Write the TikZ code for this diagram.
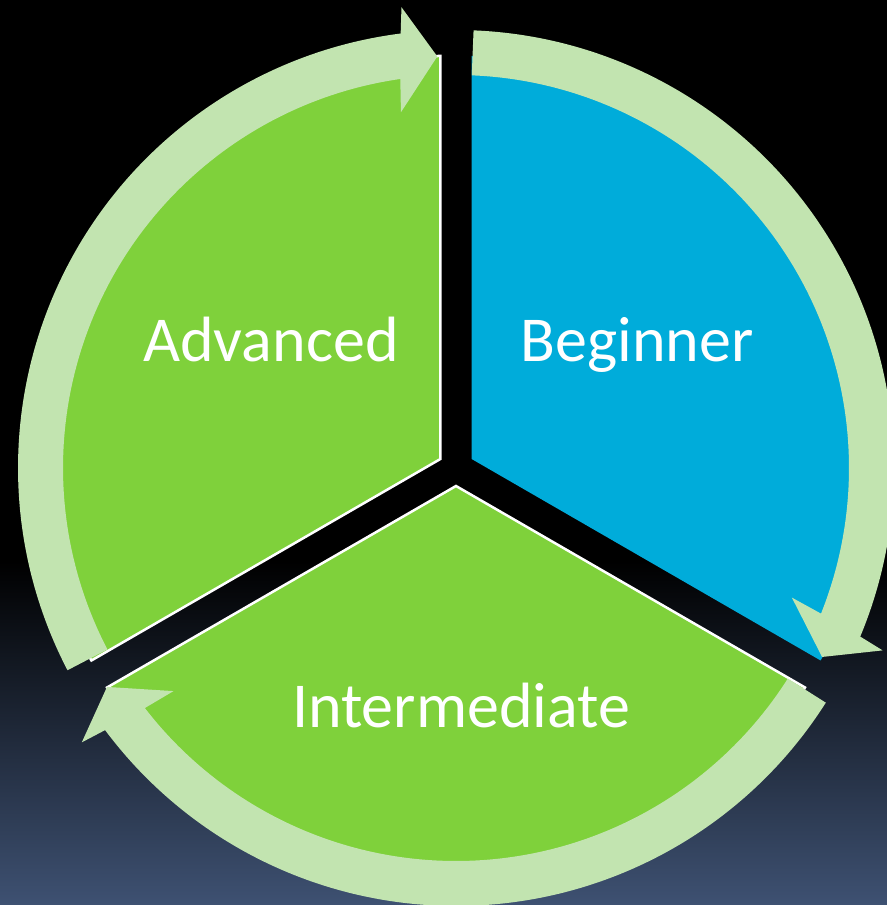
\documentclass[tikz,border=0pt]{standalone}
\usepackage{fontspec}
\setmainfont{Carlito}
\definecolor{bgbot}{RGB}{62,81,114}
\definecolor{greenc}{RGB}{127,209,59}
\definecolor{bluec}{RGB}{0,172,218}
\definecolor{ringc}{RGB}{194,228,176}
\pgfdeclareverticalshading{bgshade}{100bp}{color(0bp)=(bgbot); color(25bp)=(bgbot); color(44bp)=(black); color(100bp)=(black)}
\tikzset{
  greensector/.style={fill=greenc, draw=white, line width=2.5bp, line join=miter},
  bluesector/.style={fill=bluec},
  ringarrow/.style={fill=ringc},
  label/.style={text=white, font=\fontsize{64bp}{70bp}\selectfont, anchor=base, inner sep=0pt}
}
\newcommand\myringarrow[2]{%
  \path[ringarrow] (#1:438) arc[start angle=#1, end angle={#2+4.66}, radius=438]
    -- ({#2+4.15}:464) -- (#2:412) -- ({#2+6.2}:360) -- ({#2+5.55}:393)
    arc[start angle={#2+5.55}, end angle=#1, radius=393] -- cycle;}
\begin{document}
\begin{tikzpicture}[x=1bp, y=1bp]
\useasboundingbox (0,0) rectangle (887,905);
\clip (0,0) rectangle (887,905);
\shade[shading=bgshade] (0,0) rectangle (887,905);
\begin{scope}[shift={(456,437)}]
  % sectors
  \path[bluesector] (30:18) coordinate (begapex) -- ++(90:403) arc[start angle=90, end angle=-30, radius=403] -- cycle;
  \path[greensector] (150:18) coordinate (advapex) -- ++(210:403) arc[start angle=210, end angle=90, radius=403] -- cycle;
  \path[greensector] (270:18) coordinate (intapex) -- ++(-30:403) arc[start angle=-30, end angle=-150, radius=403] -- cycle;
  % ring arrows
  \myringarrow{207.5}{92.6}
  \myringarrow{87.7}{-27.3}
  \myringarrow{-32.4}{-147.9}
\end{scope}
\node[label] (adv) at (271,543) {Advanced};
\node[label] (beg) at (637,543) {Beginner};
\node[label] (int) at (461,177) {Intermediate};
\end{tikzpicture}
\end{document}
